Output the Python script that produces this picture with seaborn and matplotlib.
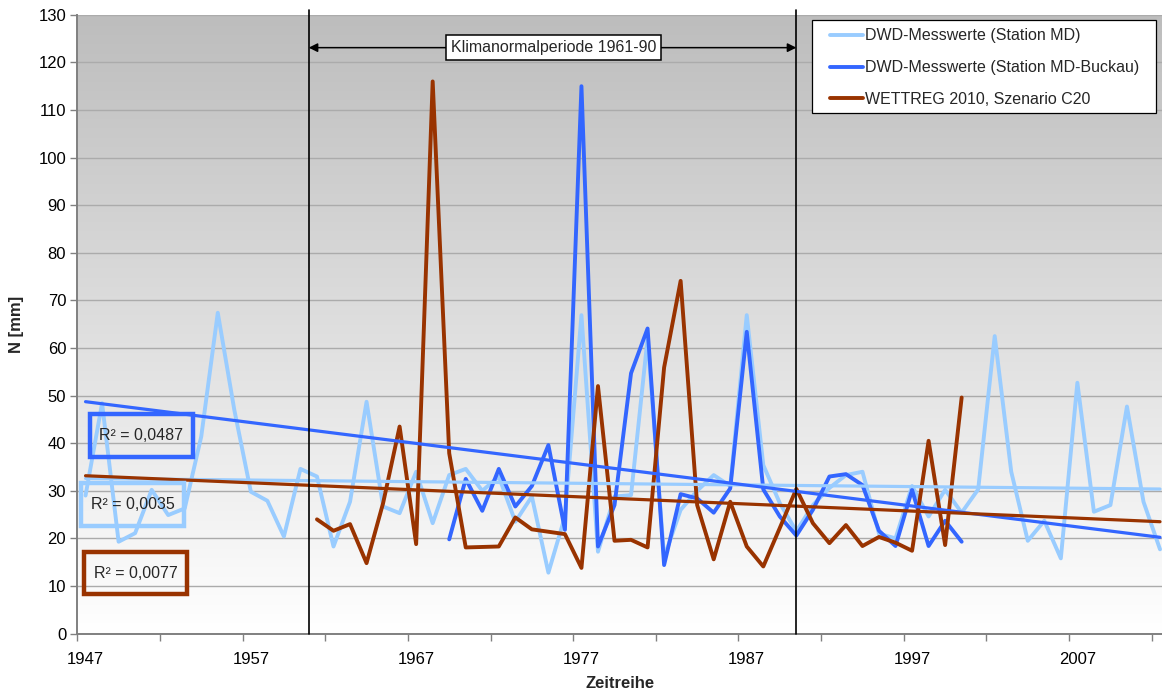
import numpy as np
import pandas as pd
import matplotlib
matplotlib.use("Agg")
import matplotlib.pyplot as plt
import seaborn as sns
from matplotlib.lines import Line2D
from matplotlib.patches import Rectangle
from matplotlib.colors import LinearSegmentedColormap
from matplotlib.ticker import FixedLocator, NullFormatter

# Monthly precipitation series (N in mm)
years_md = list(range(1947, 2013))
md = [29, 48.4, 19.3, 21.1, 30.2, 24.9, 26.3, 41.4, 67.4, 47,
      29.8, 27.9, 20.4, 34.6, 33.0, 18.3, 27.7, 48.7, 26.7, 25.3,
      34.0, 23.2, 33.3, 34.6, 30.0, 33.0, 23.5, 28.8, 12.8, 24.6,
      66.9, 17.2, 28.8, 29.1, 62.0, 16.0, 26.0, 30.0, 33.3, 31.0,
      66.9, 35.4, 27.4, 21.5, 27.0, 30.6, 33.3, 34.0, 21.0, 20.0,
      31.0, 24.6, 30.2, 25.4, 30.3, 62.5, 34.0, 19.5, 23.7, 15.8,
      52.7, 25.6, 27.0, 47.7, 27.7, 17.7]

years_buckau = list(range(1969, 2001))
buckau = [19.8, 32.5, 25.8, 34.6, 26.7, 31.0, 39.6, 21.8, 115.0, 18.3,
          27.0, 54.7, 64.1, 14.4, 29.3, 28.4, 25.4, 30.5, 63.4, 30.3,
          24.6, 20.6, 26.0, 33.0, 33.5, 31.2, 21.6, 18.4, 30.2, 18.4,
          23.7, 19.3]

years_wettreg = list(range(1961, 2001))
wettreg = [24.0, 21.6, 23.0, 14.8, 27.4, 43.5, 18.8, 116.0, 37.9, 18.1,
           18.2, 18.3, 24.4, 21.9, 21.4, 20.9, 13.8, 52.0, 19.5, 19.7,
           18.1, 55.9, 74.1, 27.0, 15.6, 27.7, 18.3, 14.1, 22.2, 30.4,
           23.2, 19.0, 22.8, 18.4, 20.3, 19.1, 17.4, 40.5, 18.6, 49.6]

series_names = ["DWD-Messwerte (Station MD)",
                "DWD-Messwerte (Station MD-Buckau)",
                "WETTREG 2010, Szenario C20"]
r2_labels = ["R\u00b2 = 0,0035", "R\u00b2 = 0,0487", "R\u00b2 = 0,0077"]
period_label = "Klimanormalperiode 1961-90"
x_label_years = list(range(1947, 2008, 10))
y_ticks = list(range(0, 131, 10))

colors = ["#99CCFF", "#3366FF", "#993300"]

sns.set_theme(style="white")
plt.rcParams["font.family"] = ["Liberation Sans", "DejaVu Sans"]

fig = plt.figure(figsize=(11.62, 6.92), dpi=100)
fig.patch.set_facecolor("white")
ax = fig.add_axes([0.0665, 0.0844, 0.9335, 0.8942])

# grey-to-white vertical gradient behind the plot area
grad = np.linspace(0, 1, 256).reshape(-1, 1)
bg_cmap = LinearSegmentedColormap.from_list("bg", ["#ffffff", "#bdbdbd"])
ax.imshow(grad, extent=[0, 1, 0, 1], transform=ax.transAxes, origin="lower",
          cmap=bg_cmap, aspect="auto", zorder=0, interpolation="bicubic")

frames = [
    pd.DataFrame({"Jahr": years_md, "N": md}),
    pd.DataFrame({"Jahr": years_buckau, "N": buckau}),
    pd.DataFrame({"Jahr": years_wettreg, "N": wettreg}),
]

for df, c in zip(frames, colors):
    sns.lineplot(data=df, x="Jahr", y="N", color=c, lw=2.8, ax=ax, zorder=3)

# linear trends, extended across the full period
ax.set_xlim(1947, 2012)
for df, c in zip(frames, colors):
    sns.regplot(data=df, x="Jahr", y="N", scatter=False, ci=None,
                truncate=False, color=c, ax=ax,
                line_kws=dict(lw=2.3, zorder=5))

ax.set_xlim(1946.5, 2012.12)
ax.set_ylim(0, 130)

# reference period 1961-1990
for xv in (1960.5, 1990.0):
    ax.axvline(xv, ymin=0, ymax=1.008, color="black", lw=1.2, zorder=6,
               clip_on=False)
ax.annotate("", xy=(1960.5, 123.1), xytext=(1990.0, 123.1),
            arrowprops=dict(arrowstyle="<|-|>", color="black", lw=1.1,
                            mutation_scale=13, shrinkA=0, shrinkB=0),
            zorder=6)
ax.text(1975.3, 123.1, period_label, ha="center", va="center", fontsize=11.5,
        zorder=7, bbox=dict(boxstyle="square,pad=0.3", fc="white", ec="black",
                            lw=1.1))

# coefficient of determination labels in framed boxes (x0, x1, y0, y1)
r2_boxes = [(1946.72, 1952.95, 22.6, 31.7),
            (1947.27, 1953.48, 37.1, 46.1),
            (1946.90, 1953.14, 8.3, 17.1)]
for (x0, x1, y0, y1), lab, c in zip(r2_boxes, r2_labels, colors):
    ax.add_patch(Rectangle((x0, y0), x1 - x0, y1 - y0, fill=False, ec=c,
                           lw=3.2, zorder=7))
    ax.text((x0 + x1) / 2, (y0 + y1) / 2, lab, ha="center", va="center",
            fontsize=11.5, zorder=7)

# axes styling
ax.set_yticks(y_ticks)
ax.yaxis.grid(True, color="#ababab", lw=1)
ax.xaxis.grid(False)
ax.set_axisbelow(True)
for s in ("top", "right"):
    ax.spines[s].set_visible(False)
for s in ("left", "bottom"):
    ax.spines[s].set_color("#808080")
    ax.spines[s].set_linewidth(1.4)

ax.set_xticks(x_label_years)
ax.set_xticklabels([str(y) for y in x_label_years])
ax.xaxis.set_minor_locator(FixedLocator(np.arange(1946.5, 2013, 5)))
ax.xaxis.set_minor_formatter(NullFormatter())
ax.tick_params(axis="x", which="major", length=0, pad=13, labelsize=12,
               colors="black")
ax.tick_params(axis="x", which="minor", length=5, width=1, color="#808080",
               bottom=True, direction="out")
ax.tick_params(axis="y", which="major", length=5, width=1, color="#808080",
               left=True, direction="out", pad=3, labelsize=12, labelcolor="black")

ax.set_xlabel("Zeitreihe", fontsize=12, fontweight="bold", labelpad=7)
ax.set_ylabel("N [mm]", fontsize=12, fontweight="bold", labelpad=10)

# legend: white framed panel with the entries placed inside
ax.add_patch(Rectangle((0.6773, 0.841), 0.9945 - 0.6773, 0.9913 - 0.841,
                       transform=ax.transAxes, fc="white", ec="black", lw=0.9,
                       zorder=8))
handles = [Line2D([0], [0], color=c, lw=2.8) for c in colors]
leg = ax.legend(handles, series_names, loc="upper left",
                bbox_to_anchor=(0.6866, 0.991), frameon=False, fontsize=11.5,
                handlelength=2.05, handletextpad=0.15, labelspacing=1.05,
                borderpad=0.5, borderaxespad=0)
leg.set_zorder(9)

fig.savefig("out.png", dpi=100, facecolor="white")
